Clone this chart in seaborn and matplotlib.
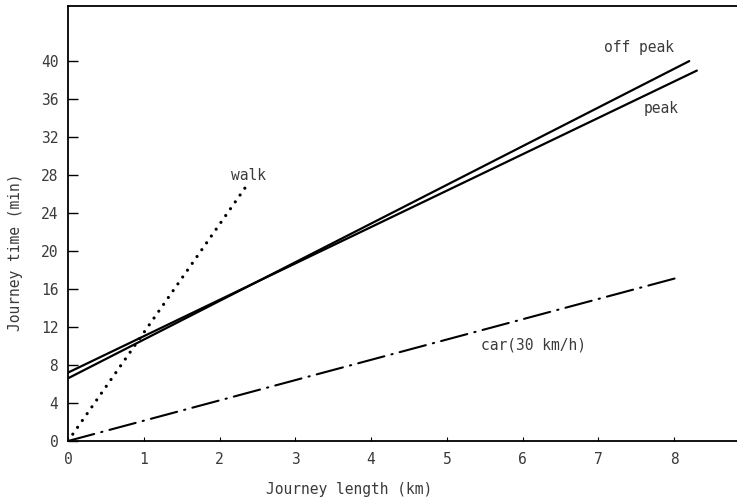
import matplotlib
matplotlib.use("Agg")
import matplotlib.pyplot as plt
import seaborn as sns
import pandas as pd

# values
off_peak_km = [0.0, 8.2]
off_peak_min = [6.6, 40.0]
peak_km = [0.0, 8.3]
peak_min = [7.2, 39.0]
walk_km = [0.0, 2.35]
walk_min = [0.0, 26.8]
car_km = [0.0, 8.05]
car_min = [0.0, 17.2]

x_ticks = list(range(0, 9))
y_ticks = list(range(0, 41, 4))

sns.set_theme(style="white")
# wide, even lettering like the stencil text in the scan
plt.rcParams['font.family'] = ['DejaVu Sans Mono']
text_col = '#3a3a3a'
fs = 10.5

fig = plt.figure(figsize=(7.37, 5.01), dpi=100)
ax = fig.add_axes([68 / 737, 60 / 501, 669 / 737, 435 / 501])

off_df = pd.DataFrame({'km': off_peak_km, 'min': off_peak_min})
peak_df = pd.DataFrame({'km': peak_km, 'min': peak_min})
walk_df = pd.DataFrame({'km': walk_km, 'min': walk_min})
car_df = pd.DataFrame({'km': car_km, 'min': car_min})

sns.lineplot(data=off_df, x='km', y='min', ax=ax, color='black', linewidth=1.6)
sns.lineplot(data=peak_df, x='km', y='min', ax=ax, color='black', linewidth=1.6)
sns.lineplot(data=walk_df, x='km', y='min', ax=ax, color='black', linewidth=2.3,
             linestyle=(0, (0.01, 2.6)), dash_capstyle='round')
sns.lineplot(data=car_df, x='km', y='min', ax=ax, color='black', linewidth=1.5,
             linestyle=(0, (13, 3.5, 0.6, 3.5)), dash_capstyle='round')

# line labels
ax.text(2.15, 28.0, 'walk', fontsize=fs, color=text_col, va='center')
ax.text(7.08, 41.4, 'off peak', fontsize=fs, color=text_col, va='center')
ax.text(7.6, 35.0, 'peak', fontsize=fs, color=text_col, va='center')
ax.text(5.45, 10.1, 'car(30 km/h)', fontsize=fs, color=text_col, va='center')

ax.set_xlim(0, 8.83)
ax.set_ylim(0, 45.8)
ax.set_xticks(x_ticks)
ax.set_yticks(y_ticks)
ax.tick_params(axis='y', direction='in', length=7, width=1, color='black',
               labelsize=fs, labelcolor=text_col, pad=7, left=True)
ax.tick_params(axis='x', direction='in', length=3, width=0.8, color='black',
               labelsize=fs, labelcolor=text_col, pad=8, bottom=True)

ax.set_xlabel('Journey length (km)', fontsize=fs, color=text_col)
ax.set_ylabel('Journey time (min)', fontsize=fs, color=text_col)
ax.xaxis.set_label_coords(0.42, -0.095)
ax.yaxis.set_label_coords(-0.068, 0.434)

for side in ['left', 'bottom', 'top']:
    ax.spines[side].set_color('black')
    ax.spines[side].set_linewidth(1.3)
ax.spines['right'].set_visible(False)

fig.savefig('out.png', dpi=100)
